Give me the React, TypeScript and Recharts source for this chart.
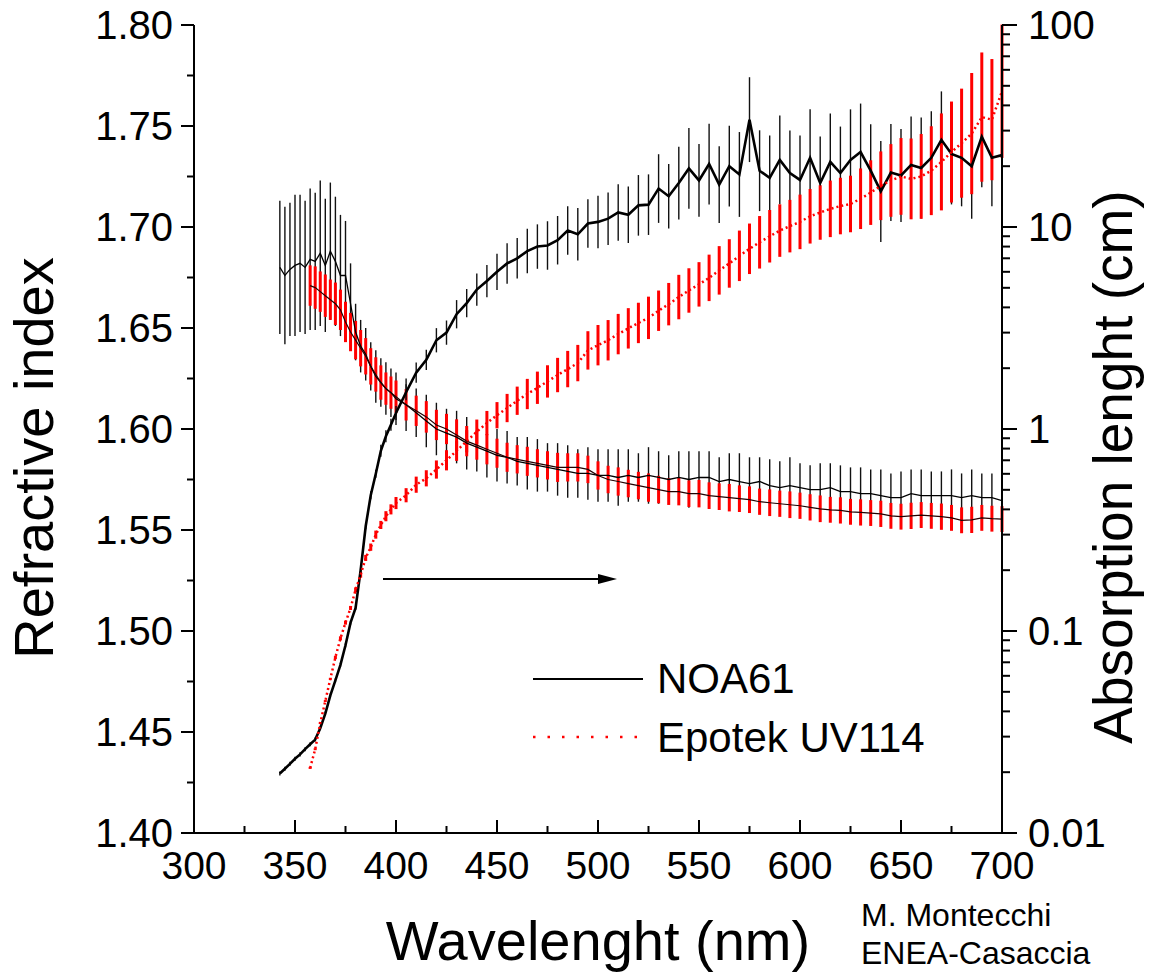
import React from "react";
import { ComposedChart, Line, XAxis, YAxis, ErrorBar } from "recharts";

const FONT = "'Liberation Sans', Arial, Helvetica, sans-serif";

// NOA61 — wavelength (nm), refractive index, index error, absorption length (cm), log10 error of absorption length
const noaWl = [
  342.5, 345, 347.5, 350, 352.5, 355, 357.5, 360, 362.5, 365, 367.5, 370, 372.5, 375, 377.5, 380,
  382.5, 385, 387.5, 390, 392.5, 395, 397.5, 400,
  405, 410, 415, 420, 425, 430, 435, 440, 445, 450, 455, 460, 465, 470, 475, 480, 485, 490, 495, 500,
  505, 510, 515, 520, 525, 530, 535, 540, 545, 550, 555, 560, 565, 570, 575, 580, 585, 590, 595, 600,
  605, 610, 615, 620, 625, 630, 635, 640, 645, 650, 655, 660, 665, 670, 675, 680, 685, 690, 695, 700,
];
const noaIndex = [
  1.68, 1.676, 1.679, 1.681, 1.682, 1.68, 1.684, 1.683, 1.687, 1.681, 1.688, 1.683, 1.676, 1.676, 1.662, 1.648,
  1.641, 1.637, 1.631, 1.626, 1.623, 1.62, 1.618, 1.615,
  1.612, 1.608, 1.604, 1.6, 1.598, 1.596, 1.593, 1.591, 1.589, 1.587, 1.586, 1.584, 1.583, 1.582, 1.581, 1.58, 1.579, 1.578, 1.578, 1.577,
  1.577, 1.576, 1.577, 1.576, 1.577, 1.576, 1.575, 1.576, 1.575, 1.576, 1.576, 1.574, 1.575, 1.574, 1.573, 1.574, 1.572, 1.571, 1.572, 1.571,
  1.57, 1.57, 1.571, 1.569, 1.569, 1.568, 1.568, 1.567, 1.566, 1.566, 1.568, 1.567, 1.567, 1.567, 1.567, 1.566, 1.567, 1.566, 1.566, 1.5645,
];
const noaIndexErr = [
  0.033, 0.034, 0.033, 0.035, 0.034, 0.033, 0.035, 0.034, 0.036, 0.033, 0.034, 0.032, 0.03, 0.027, 0.02, 0.014,
  0.013, 0.013, 0.012, 0.013, 0.012, 0.013, 0.012, 0.013,
  0.013, 0.012, 0.013, 0.013, 0.012, 0.013, 0.013, 0.012, 0.013, 0.013, 0.013, 0.012, 0.013, 0.013, 0.012, 0.013, 0.013, 0.012, 0.013, 0.013,
  0.013, 0.014, 0.013, 0.012, 0.014, 0.013, 0.012, 0.013, 0.014, 0.013, 0.013, 0.012, 0.013, 0.014, 0.013, 0.012, 0.013, 0.013, 0.014, 0.012,
  0.012, 0.013, 0.012, 0.013, 0.012, 0.013, 0.012, 0.013, 0.012, 0.013, 0.012, 0.013, 0.012, 0.012, 0.013, 0.012, 0.013, 0.012, 0.012, 0.013,
];
const noaAbs = [
  0.0197, 0.0208, 0.022, 0.0233, 0.0245, 0.026, 0.0275, 0.029, 0.033, 0.039, 0.048, 0.057, 0.068, 0.085, 0.11, 0.13,
  0.2, 0.33, 0.47, 0.6, 0.78, 0.92, 1.05, 1.2,
  1.52, 1.9, 2.2, 2.75, 3.0, 3.7, 4.2, 4.9, 5.4, 6.0, 6.6, 7.0, 7.6, 8.0, 8.1, 8.6, 9.6, 9.2, 10.4, 10.6,
  11.0, 11.8, 11.5, 12.8, 12.9, 15.5, 14.2, 16.5, 19.5, 17.0, 20.5, 16.2, 20.0, 18.2, 34, 19, 17.5, 21.5, 18.5, 17.1,
  22, 16.5, 21, 18.5, 21.5, 23.5, 19, 15, 18.6, 18, 20.3, 19.6, 22, 27, 23, 22, 20, 28, 22, 22.7,
];
const noaAbsErr = [
  0.01, 0.01, 0.01, 0.01, 0.01, 0.01, 0.01, 0.01, 0.01, 0.01, 0.01, 0.01, 0.01, 0.01, 0.01, 0.01,
  0.01, 0.015, 0.02, 0.02, 0.03, 0.03, 0.03, 0.035,
  0.04, 0.05, 0.05, 0.06, 0.06, 0.07, 0.07, 0.08, 0.08, 0.09, 0.1, 0.1, 0.11, 0.11, 0.12, 0.12, 0.12, 0.13, 0.12, 0.13,
  0.13, 0.14, 0.14, 0.15, 0.15, 0.17, 0.16, 0.18, 0.2, 0.18, 0.2, 0.19, 0.2, 0.21, 0.21, 0.2, 0.21, 0.22, 0.21, 0.22,
  0.24, 0.23, 0.24, 0.23, 0.25, 0.24, 0.23, 0.25, 0.24, 0.23, 0.24, 0.25, 0.23, 0.24, 0.25, 0.24, 0.26, 0.25, 0.24, 0.25,
];

// Epotek UV114
const epoWl = [
  357.5, 360, 362.5, 365, 367.5, 370, 372.5, 375, 377.5, 380, 382.5, 385, 387.5, 390, 392.5, 395, 397.5, 400,
  405, 410, 415, 420, 425, 430, 435, 440, 445, 450, 455, 460, 465, 470, 475, 480, 485, 490, 495, 500,
  505, 510, 515, 520, 525, 530, 535, 540, 545, 550, 555, 560, 565, 570, 575, 580, 585, 590, 595, 600,
  605, 610, 615, 620, 625, 630, 635, 640, 645, 650, 655, 660, 665, 670, 675, 680, 685, 690, 695, 700,
];
const epoIndex = [
  1.671, 1.67, 1.668, 1.666, 1.664, 1.662, 1.659, 1.653, 1.648, 1.644, 1.64, 1.636, 1.631, 1.627, 1.623, 1.62, 1.618, 1.616,
  1.612, 1.609, 1.606, 1.602, 1.6, 1.597, 1.594, 1.592, 1.59, 1.588, 1.586, 1.585, 1.584, 1.583, 1.582, 1.581, 1.581, 1.581, 1.58, 1.577,
  1.575, 1.574, 1.573, 1.572, 1.571, 1.57, 1.569, 1.569, 1.568, 1.568, 1.567, 1.5665, 1.566, 1.5655, 1.565, 1.564, 1.5635, 1.563, 1.5625, 1.562,
  1.5612, 1.5605, 1.56, 1.5597, 1.559, 1.5587, 1.5584, 1.558, 1.557, 1.5566, 1.557, 1.5574, 1.557, 1.5566, 1.556, 1.5548, 1.555, 1.556, 1.5556, 1.5554,
];
const epoIndexErr = [
  0.01, 0.0105, 0.01, 0.0105, 0.01, 0.0105, 0.01, 0.01, 0.0095, 0.0095, 0.009, 0.009, 0.009, 0.0085, 0.0085, 0.008, 0.008, 0.008,
  0.0078, 0.0075, 0.0078, 0.0075, 0.0075, 0.0078, 0.0075, 0.0072, 0.0075, 0.0072, 0.0072, 0.007, 0.0072, 0.007, 0.007, 0.0072, 0.007, 0.007, 0.0068, 0.007,
  0.0068, 0.007, 0.0068, 0.0068, 0.007, 0.0068, 0.0066, 0.0068, 0.0066, 0.0068, 0.0066, 0.0066, 0.0068, 0.0066, 0.0066, 0.0065, 0.0066, 0.0065, 0.0066, 0.0065,
  0.0065, 0.0066, 0.0064, 0.0065, 0.0064, 0.0065, 0.0064, 0.0065, 0.0064, 0.0064, 0.0065, 0.0064, 0.0064, 0.0065, 0.0064, 0.0064, 0.0065, 0.0064, 0.0064, 0.0064,
];
const epoAbs = [
  0.021, 0.026, 0.035, 0.045, 0.058, 0.074, 0.092, 0.11, 0.13, 0.16, 0.19, 0.23, 0.26, 0.3, 0.335, 0.37, 0.4, 0.43,
  0.47, 0.53, 0.57, 0.63, 0.7, 0.78, 0.87, 0.97, 1.07, 1.17, 1.27, 1.38, 1.49, 1.6, 1.72, 1.85, 1.98, 2.12, 2.45, 2.6,
  2.75, 2.95, 3.15, 3.35, 3.55, 3.85, 4.15, 4.5, 4.85, 5.2, 5.6, 6.1, 6.6, 7.2, 7.8, 8.4, 9.0, 9.6, 10.1, 10.6,
  11.3, 11.8, 12.3, 12.7, 13.0, 13.8, 14.8, 16.0, 17.0, 17.8, 17.3, 17.8, 19.0, 21.0, 23.5, 26.0, 29.0, 35.0, 34.0, 47.0,
];
const epoAbsErr = [
  0.005, 0.005, 0.005, 0.005, 0.005, 0.008, 0.01, 0.01, 0.01, 0.012, 0.015, 0.015, 0.018, 0.02, 0.02, 0.025, 0.025, 0.03,
  0.035, 0.04, 0.04, 0.045, 0.05, 0.05, 0.055, 0.06, 0.06, 0.065, 0.07, 0.07, 0.075, 0.08, 0.08, 0.085, 0.09, 0.09, 0.095, 0.1,
  0.1, 0.1, 0.1, 0.1, 0.105, 0.1, 0.105, 0.11, 0.11, 0.11, 0.115, 0.12, 0.12, 0.125, 0.125, 0.13, 0.13, 0.13, 0.13, 0.135,
  0.135, 0.135, 0.14, 0.14, 0.14, 0.15, 0.16, 0.17, 0.18, 0.19, 0.2, 0.21, 0.22, 0.24, 0.25, 0.27, 0.3, 0.32, 0.3, 0.33,
];

const xTicks = [300, 325, 350, 375, 400, 425, 450, 475, 500, 525, 550, 575, 600, 625, 650, 675, 700];
const leftTicks = [
  1.4, 1.425, 1.45, 1.475, 1.5, 1.525, 1.55, 1.575, 1.6, 1.625, 1.65, 1.675, 1.7, 1.725, 1.75, 1.775, 1.8,
];
const rightTicks = [
  0.01, 0.02, 0.03, 0.04, 0.05, 0.06, 0.07, 0.08, 0.09,
  0.1, 0.2, 0.3, 0.4, 0.5, 0.6, 0.7, 0.8, 0.9,
  1, 2, 3, 4, 5, 6, 7, 8, 9,
  10, 20, 30, 40, 50, 60, 70, 80, 90, 100,
];
const rightLabels = [0.01, 0.1, 1, 10, 100];

const noaRows = noaWl.map((w, i) => ({
  w,
  n: noaIndex[i],
  nErr: noaIndexErr[i],
  a: noaAbs[i],
  aErr: noaAbsErr[i],
}));
const epoRows = epoWl.map((w, i) => ({
  w,
  n: epoIndex[i],
  nErr: epoIndexErr[i],
  a: epoAbs[i],
  aErr: epoAbsErr[i],
}));

// error in decades -> [down, up] deltas for the log axis
const logErr = (d: any) => [d.a * (1 - Math.pow(10, -d.aErr)), d.a * (Math.pow(10, d.aErr) - 1)];

const BottomTick = (props: any) => {
  const { x, y, payload } = props;
  const v = payload.value;
  const major = v % 50 === 0;
  return (
    <g>
      <line x1={x} x2={x} y1={y} y2={y - (major ? 13 : 7)} stroke="#000" strokeWidth={2} />
      {major && (
        <text x={x} y={y + 46} textAnchor="middle" fontSize={39} fontFamily={FONT} fill="#000">
          {v}
        </text>
      )}
    </g>
  );
};

const TopTick = (props: any) => {
  const { x, y, payload } = props;
  const major = payload.value % 50 === 0;
  return <line x1={x} x2={x} y1={y} y2={y + (major ? 14 : 8)} stroke="#000" strokeWidth={2} />;
};

const LeftTick = (props: any) => {
  const { x, y, payload } = props;
  const v = payload.value;
  const major = Math.round(v * 1000) % 50 === 0;
  return (
    <g>
      <line x1={x} x2={x - (major ? 13 : 7)} y1={y} y2={y} stroke="#000" strokeWidth={2} />
      {major && (
        <text x={x - 21} y={y} dy="0.36em" textAnchor="end" fontSize={40} fontFamily={FONT} fill="#000">
          {v.toFixed(2)}
        </text>
      )}
    </g>
  );
};

const RightTick = (props: any) => {
  const { x, y, payload } = props;
  const v = payload.value;
  const major = rightLabels.some((r) => Math.abs(r - v) < r * 1e-6);
  return (
    <g>
      <line x1={x} x2={x + (major ? 15 : 8)} y1={y} y2={y} stroke="#000" strokeWidth={2} />
      {major && (
        <text x={x + 26} y={y} dy="0.36em" textAnchor="start" fontSize={40} fontFamily={FONT} fill="#000">
          {String(v)}
        </text>
      )}
    </g>
  );
};

// the wrapper cancels the body margin, so everything below is in page pixels
const W = 1152;
const H = 973;

export default function App() {
  return (
    <div style={{ position: "relative", width: W, height: H, margin: "-8px 0 0 -8px", background: "#fff" }}>
      <ComposedChart width={W} height={H} margin={{ top: 25, right: 0, bottom: 0, left: 8 }}>
        <XAxis
          xAxisId="bottom"
          dataKey="w"
          type="number"
          domain={[300, 700]}
          ticks={xTicks}
          interval={0}
          allowDataOverflow
          height={140}
          tickSize={0}
          tickMargin={0}
          tick={<BottomTick />}
          axisLine={{ stroke: "#000", strokeWidth: 2 }}
        />
        <XAxis
          xAxisId="top"
          orientation="top"
          type="number"
          domain={[300, 700]}
          ticks={xTicks}
          interval={0}
          allowDataOverflow
          height={0}
          tickSize={0}
          tickMargin={0}
          tick={<TopTick />}
          axisLine={{ stroke: "#000", strokeWidth: 2 }}
        />
        <YAxis
          yAxisId="left"
          type="number"
          domain={[1.4, 1.8]}
          ticks={leftTicks}
          interval={0}
          allowDataOverflow
          width={186}
          tickSize={0}
          tickMargin={0}
          tick={<LeftTick />}
          axisLine={{ stroke: "#000", strokeWidth: 2 }}
        />
        <YAxis
          yAxisId="right"
          orientation="right"
          type="number"
          scale="log"
          domain={[0.01, 100]}
          ticks={rightTicks}
          interval={0}
          allowDataOverflow
          width={150}
          tickSize={0}
          tickMargin={0}
          tick={<RightTick />}
          axisLine={{ stroke: "#000", strokeWidth: 2 }}
        />

        {/* error bars first, so the curves sit on top */}
        <Line data={noaRows} xAxisId="bottom" yAxisId="left" dataKey="n" stroke="none" dot={false} activeDot={false} isAnimationActive={false}>
          <ErrorBar dataKey="nErr" width={0} stroke="#111" strokeWidth={1.4} direction="y" />
        </Line>
        <Line data={epoRows} xAxisId="bottom" yAxisId="left" dataKey="n" stroke="none" dot={false} activeDot={false} isAnimationActive={false}>
          <ErrorBar dataKey="nErr" width={0} stroke="#ff0000" strokeWidth={3} direction="y" />
        </Line>
        <Line data={noaRows} xAxisId="bottom" yAxisId="right" dataKey="a" stroke="none" dot={false} activeDot={false} isAnimationActive={false}>
          <ErrorBar dataKey={logErr} width={0} stroke="#111" strokeWidth={1.4} direction="y" />
        </Line>
        <Line data={epoRows} xAxisId="bottom" yAxisId="right" dataKey="a" stroke="none" dot={false} activeDot={false} isAnimationActive={false}>
          <ErrorBar dataKey={logErr} width={0} stroke="#ff0000" strokeWidth={3} direction="y" />
        </Line>

        <Line data={noaRows} xAxisId="bottom" yAxisId="left" dataKey="n" type="linear" stroke="#000" strokeWidth={1.3} dot={false} activeDot={false} isAnimationActive={false} />
        <Line data={epoRows} xAxisId="bottom" yAxisId="left" dataKey="n" type="linear" stroke="#200" strokeWidth={1.2} dot={false} activeDot={false} isAnimationActive={false} />
        <Line data={noaRows} xAxisId="bottom" yAxisId="right" dataKey="a" type="linear" stroke="#000" strokeWidth={2.6} dot={false} activeDot={false} isAnimationActive={false} />
        <Line data={epoRows} xAxisId="bottom" yAxisId="right" dataKey="a" type="linear" stroke="#ff0000" strokeWidth={2.5} strokeDasharray="2 3" dot={false} activeDot={false} isAnimationActive={false} />
      </ComposedChart>

      <svg width={W} height={H} style={{ position: "absolute", left: 0, top: 0, pointerEvents: "none" }} fontFamily={FONT}>
        {/* arrow */}
        <line x1={383} y1={579} x2={600} y2={579} stroke="#000" strokeWidth={2} />
        <polygon points="617,579 598,574 598,584" fill="#000" />

        {/* legend */}
        <line x1={533} y1={679} x2={643} y2={679} stroke="#000" strokeWidth={2.2} />
        <text x={657} y={693} fontSize={42} fill="#000">NOA61</text>
        <line x1={533} y1={737} x2={637} y2={737} stroke="#ff0000" strokeWidth={2.5} strokeDasharray="2.5 12" />
        <text x={657} y={752} fontSize={42} fill="#000">Epotek UV114</text>

        {/* axis titles */}
        <text x={598} y={960} textAnchor="middle" fontSize={56} fill="#000">Wavelenght (nm)</text>
        <text transform="translate(53,458) rotate(-90)" textAnchor="middle" fontSize={56} fill="#000">Refractive index</text>
        <text transform="translate(1132,467) rotate(-90)" textAnchor="middle" fontSize={55} fill="#000">Absorption lenght (cm)</text>

        {/* credits */}
        <text x={861} y={926} fontSize={32} fill="#000">M. Montecchi</text>
        <text x={861} y={964} fontSize={32} fill="#000">ENEA-Casaccia</text>
      </svg>
    </div>
  );
}
